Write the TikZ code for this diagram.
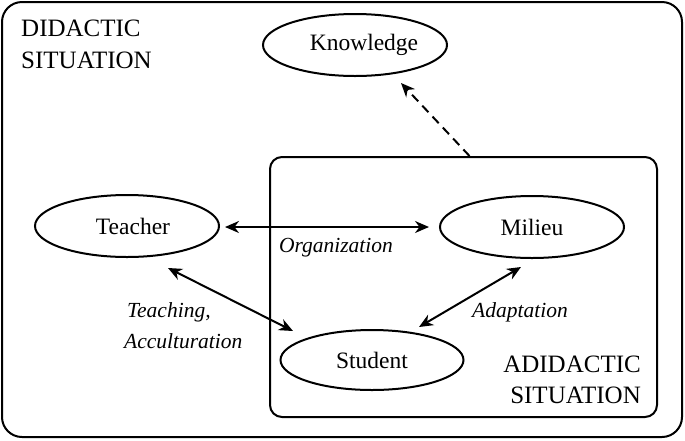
\documentclass[tikz,border=0pt]{standalone}
\usepackage{fontspec}
\setmainfont{Liberation Serif}
\usetikzlibrary{shapes.geometric,arrows.meta}
\begin{document}
\begin{tikzpicture}[x=1pt,y=-1pt,
  every node/.style={inner sep=0pt},
  oval/.style={draw,ellipse,line width=2pt,minimum width=184pt,minimum height=62pt,font=\fontsize{23.5}{28}\selectfont},
  box/.style={draw,line width=2pt,rectangle},
  caps/.style={font=\fontsize{25}{30}\selectfont},
  lab/.style={font=\fontsize{21.5}{26}\selectfont\itshape},
  link/.style={line width=2pt,{Stealth[length=14pt,width=12pt]}-{Stealth[length=14pt,width=12pt]}},
  dlink/.style={line width=2pt,dash pattern=on 9pt off 6pt,-{Stealth[length=14pt,width=12pt]}}
]
\useasboundingbox (0,0) rectangle (685,440);
% outer and inner situation boxes
\node[box,rounded corners=20pt,minimum width=680pt,minimum height=435pt] (did) at (342,219.5) {};
\node[box,rounded corners=12pt,minimum width=387pt,minimum height=260pt] (adid) at (463.5,287) {};
% ellipses
\node[oval] (know) at (355,45) {\hspace*{18pt}Knowledge};
\node[oval] (teach) at (127,226) {\hspace*{12pt}Teacher};
\node[oval] (mil) at (532,227) {Milieu};
\node[oval,minimum width=183pt,minimum height=60pt] (stud) at (372,360) {Student};
% situation labels
\node[caps,anchor=base west] (did1) at (21,36) {DIDACTIC};
\node[caps,anchor=base west] (did2) at (21,68) {SITUATION};
\node[caps,anchor=base east] (ad1) at (641,372) {ADIDACTIC};
\node[caps,anchor=base east] (ad2) at (641,403) {SITUATION};
% connectors
\draw[link] ([shift={(98,1)}]teach.center) -- ([shift={(-103,0)}]mil.center);
\draw[link] ([shift={(41,42)}]teach.center) -- ([shift={(-79,-29)}]stud.center);
\draw[link] ([shift={(-11,40)}]mil.center) -- ([shift={(47,-33)}]stud.center);
\draw[dlink] ([xshift=6pt]adid.north) -- ([shift={(46,38)}]know.center);
% connector labels
\node[lab,anchor=base] (org) at (336,252) {Organization};
\node[lab,anchor=base west] (tea1) at (127,317) {Teaching,};
\node[lab,anchor=base west] (tea2) at (124,348) {Acculturation};
\node[lab,anchor=base west] (ada) at (472,317) {Adaptation};
\end{tikzpicture}
\end{document}
